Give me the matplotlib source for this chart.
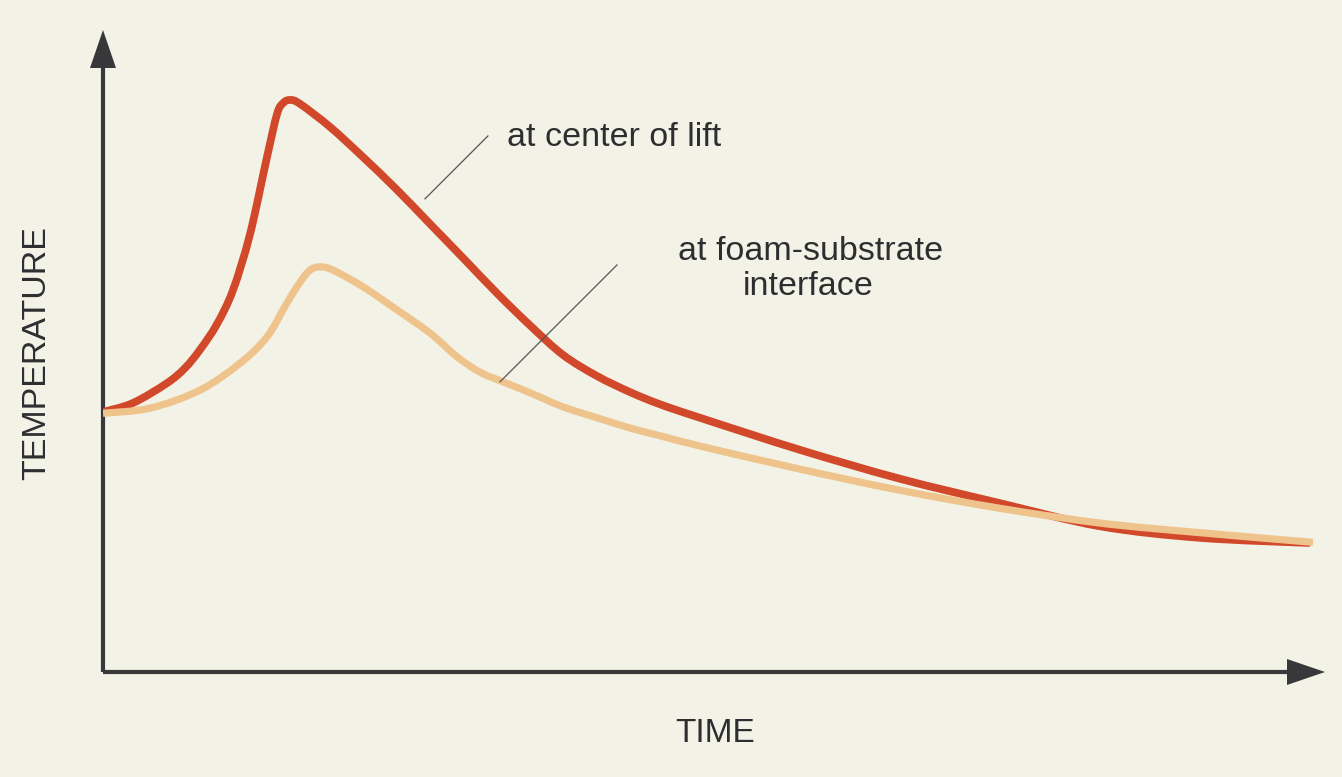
import matplotlib
matplotlib.use("Agg")
import matplotlib.pyplot as plt
import numpy as np
from matplotlib.path import Path
from matplotlib.patches import PathPatch

# ---- data (arbitrary units: time 0-100, temperature 0-100) ----
time_center = [0.0, 2.45, 5.24, 6.71, 7.94, 9.33, 10.64, 12.03, 13.42, 14.24,
               14.73, 15.30, 16.12, 18.58, 21.28, 24.06, 26.76, 29.46, 32.24,
               34.94, 37.64, 40.43, 43.13, 45.58, 48.85, 57.04, 65.22, 73.40,
               81.59, 89.77, 98.77]
temp_center = [40.5, 41.9, 45.0, 47.35, 50.2, 54.2, 59.5, 68.2, 80.2, 86.9,
               88.6, 89.1, 88.5, 84.9, 80.2, 75.1, 69.8, 64.5, 59.0,
               54.0, 49.4, 46.1, 43.6, 41.7, 39.6, 34.6, 30.1, 26.3,
               22.7, 20.9, 20.1]

time_foam = [0.0, 3.85, 7.94, 11.21, 13.42, 15.06, 16.12, 16.94, 17.76, 18.82,
             21.28, 24.06, 26.76, 28.97, 30.85, 32.73, 34.94, 37.64, 40.43,
             43.13, 45.58, 48.85, 57.04, 65.22, 73.40, 81.59, 89.77, 99.02]
temp_foam = [40.3, 41.1, 43.9, 48.1, 52.2, 57.5, 60.7, 62.6, 63.1, 62.6,
             60.0, 56.4, 52.8, 49.1, 46.7, 45.2, 43.5, 41.3, 39.6,
             38.0, 36.8, 35.2, 31.6, 28.3, 25.5, 23.2, 21.7, 20.2]

label_center = "at center of lift"
label_foam = ["at foam-substrate", "interface"]
xlabel = "TIME"
ylabel = "TEMPERATURE"

# ---- style ----
BG = "#F3F2E6"
RED = "#D2482B"
ORANGE = "#EEC48C"
AXIS = "#38383A"
TXT = "#2E2E30"
FONT = ["Liberation Sans", "DejaVu Sans"]


def smooth_path(xs, ys):
    """Bezier path passing through every data point (Catmull-Rom tangents)."""
    p = np.column_stack([xs, ys]).astype(float)
    n = len(p)
    verts = [p[0]]
    codes = [Path.MOVETO]
    for i in range(n - 1):
        pm = p[i - 1] if i > 0 else p[i]
        pn = p[i + 2] if i + 2 < n else p[i + 1]
        c1 = p[i] + (p[i + 1] - pm) / 6.0
        c2 = p[i + 1] - (pn - p[i]) / 6.0
        verts += [c1, c2, p[i + 1]]
        codes += [Path.CURVE4] * 3
    return Path(verts, codes)


W, H = 1342, 777
fig = plt.figure(figsize=(W / 100, H / 100), dpi=100, facecolor=BG)
x0, x1 = 103, 1325   # pixel extent of axes
y0, y1 = 672, 30
ax = fig.add_axes([x0 / W, (H - y0) / H, (x1 - x0) / W, (y0 - y1) / H])
ax.set_facecolor(BG)
ax.set_xlim(0, 100)
ax.set_ylim(0, 100)
ax.axis("off")

# axes with arrow heads (axes-fraction coordinates)
hl_x = 38 / (x1 - x0)
hw_x = 13 / (y0 - y1)
hl_y = 38 / (y0 - y1)
hw_y = 13 / (x1 - x0)
ax.plot([0, 1 - hl_x], [0, 0], color=AXIS, lw=3.0, transform=ax.transAxes,
        clip_on=False, solid_capstyle="butt")
ax.plot([0, 0], [0, 1 - hl_y], color=AXIS, lw=3.0, transform=ax.transAxes,
        clip_on=False, solid_capstyle="butt")
ax.fill([1 - hl_x, 1, 1 - hl_x], [-hw_x, 0, hw_x], color=AXIS,
        transform=ax.transAxes, clip_on=False, lw=0)
ax.fill([-hw_y, 0, hw_y], [1 - hl_y, 1, 1 - hl_y], color=AXIS,
        transform=ax.transAxes, clip_on=False, lw=0)

# curves (smooth paths through the data points)
ax.add_patch(PathPatch(smooth_path(time_center, temp_center), fill=False,
                       edgecolor=RED, lw=5.6, joinstyle="round",
                       capstyle="butt", zorder=2))
ax.add_patch(PathPatch(smooth_path(time_foam, temp_foam), fill=False,
                       edgecolor=ORANGE, lw=5.2, joinstyle="round",
                       capstyle="butt", zorder=3))

# annotations
ax.plot([26.35, 31.5], [73.7, 83.5], color="#555555", lw=0.9, zorder=4)
ax.plot([32.49, 42.06], [45.2, 63.4], color="#555555", lw=0.9, zorder=4)
ax.text(33.06, 81.9, label_center, fontsize=24.5, color=TXT, family=FONT,
        ha="left", va="baseline")
ax.text(57.9, 64.2, label_foam[0], fontsize=24.5, color=TXT, family=FONT,
        ha="center", va="baseline")
ax.text(57.7, 58.7, label_foam[1], fontsize=24.5, color=TXT, family=FONT,
        ha="center", va="baseline")

# axis titles
fig.text(715 / W, 1 - 734 / H, xlabel, fontsize=24, color=TXT, family=FONT,
         ha="center", va="center")
fig.text(37 / W, 1 - 353 / H, ylabel, fontsize=24.5, color=TXT, family=FONT,
         ha="center", va="center", rotation=90)

fig.savefig("out.png", dpi=100, facecolor=BG)
